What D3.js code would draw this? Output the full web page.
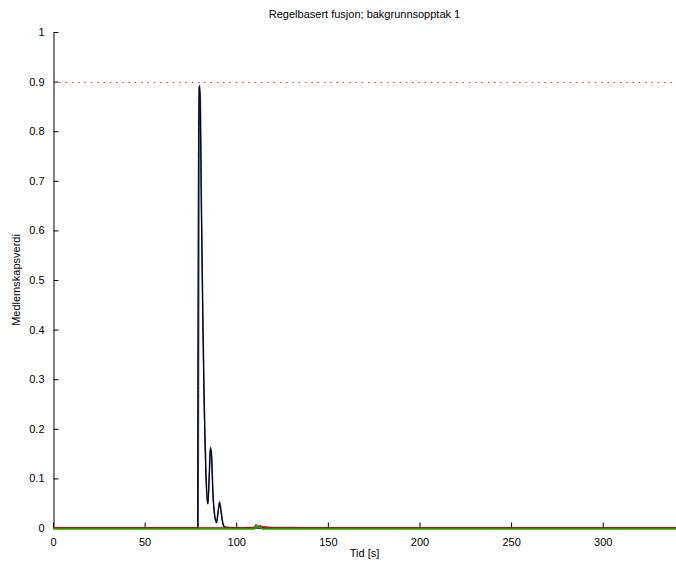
<!DOCTYPE html>
<html>
<head>
<meta charset="utf-8">
<script src="https://cdn.jsdelivr.net/npm/d3@7"></script>
<style>
  body { margin: 0; background: #fff; }
  svg text { font-family: "Liberation Sans", Arial, sans-serif; font-size: 11px; fill: #000; }
</style>
</head>
<body>
<svg id="chart" width="676" height="568"></svg>
<script>
// chart data
const title = "Regelbasert fusjon; bakgrunnsopptak 1";
const xLabel = "Tid [s]";
const yLabel = "Medlemskapsverdi";
const xTicks = [0, 50, 100, 150, 200, 250, 300];
const yTicks = [0, 0.1, 0.2, 0.3, 0.4, 0.5, 0.6, 0.7, 0.8, 0.9, 1];
const threshold = 0.9;

// navy membership curve
const navyT = [0, 79.2, 79.5, 79.9, 80.4, 81, 81.8, 82.6, 83.5, 84.5, 85.3, 85.9, 86.5, 87.3, 88.3, 89.2, 90, 90.9, 91.7, 92.6, 93.5, 96, 340];
const navyV = [0, 0, 0.5, 0.893, 0.87, 0.65, 0.42, 0.24, 0.11, 0.05, 0.11, 0.163, 0.15, 0.07, 0.025, 0.012, 0.03, 0.053, 0.035, 0.012, 0.003, 0, 0];
// black curve (almost on top of navy, step at start)
const blackT = [0, 78.9, 79.0, 79.7, 80.3, 81, 81.8, 82.6, 83.5, 84.5, 85.3, 85.9, 86.5, 87.3, 88.3, 89.2, 90, 90.9, 91.7, 92.6, 93.5, 108, 110, 110.8, 111.6, 112.4, 113.2, 114, 116, 340];
const blackV = [0, 0, 0.3, 0.89, 0.85, 0.64, 0.41, 0.23, 0.1, 0.048, 0.105, 0.158, 0.145, 0.065, 0.022, 0.01, 0.027, 0.05, 0.032, 0.01, 0.002, 0, 0.001, 0.007, 0.004, 0.004, 0.005, 0.002, 0, 0];
// light blue low curve
const lightT = [0, 104, 106, 132, 134, 340];
const lightV = [0, 0, 0.002, 0.002, 0, 0];
// red low curve
const redT = [0, 108, 110, 113, 116, 119, 121, 340];
const redV = [0, 0, 0.002, 0.003, 0.002, 0.001, 0, 0];
// green curve along zero
const greenT = [0, 110, 110.8, 111.6, 112.5, 113.3, 114.2, 340];
const greenV = [0, 0, 0.006, 0.003, 0.004, 0.004, 0, 0];

const width = 676, height = 568;
const margin = { top: 32, bottom: 40, left: 53, right: 0 };

const svg = d3.select("#chart");

const xScale = d3.scaleLinear()
  .domain([0, 340])
  .range([margin.left, width - margin.right]);

const yScale = d3.scaleLinear()
  .domain([0, 1])
  .range([height - margin.bottom, margin.top]);

// axes, MATLAB style ticks pointing inwards
const xAxis = d3.axisBottom(xScale).tickValues(xTicks).tickSizeInner(-5).tickSizeOuter(0).tickPadding(9);
const yAxis = d3.axisLeft(yScale).tickValues(yTicks).tickSizeInner(-5).tickSizeOuter(0).tickPadding(9)
  .tickFormat(d => d === 0 || d === 1 ? d3.format("d")(d) : d3.format(".1f")(d));

const gx = svg.append("g")
  .attr("transform", `translate(0,${yScale(0) - 0.5})`)
  .call(xAxis);
const gy = svg.append("g")
  .attr("transform", `translate(${margin.left + 0.5},0)`)
  .call(yAxis);

[gx, gy].forEach(g => {
  g.select(".domain").attr("stroke", "#000").attr("stroke-width", 1);
  g.selectAll(".tick line").attr("stroke", "#000");
  g.selectAll(".tick text").attr("font-size", 11).attr("fill", "#000")
    .attr("font-family", "Liberation Sans, Arial, sans-serif");
});
gx.selectAll(".tick text").attr("dy", "0.9em");

// threshold
svg.append("line")
  .attr("x1", xScale(0)).attr("x2", xScale(340))
  .attr("y1", Math.round(yScale(threshold)) + 0.5).attr("y2", Math.round(yScale(threshold)) + 0.5)
  .attr("stroke", "#ff3030")
  .attr("stroke-width", 1)
  .attr("stroke-dasharray", "1.5,4.8");

const line = d3.line()
  .x(d => xScale(d[0]))
  .y(d => yScale(d[1]))
  .curve(d3.curveMonotoneX);

function drawSeries(ts, vs, color, w) {
  svg.append("path")
    .datum(ts.map((t, i) => [t, vs[i]]))
    .attr("fill", "none")
    .attr("stroke", color)
    .attr("stroke-width", w)
    .attr("d", line);
}

drawSeries(lightT, lightV, "#b8b8e6", 1.2);
drawSeries(navyT, navyV, "#2b2b7a", 1.5);
drawSeries(blackT, blackV, "#000000", 1);
drawSeries(redT, redV, "#ff0000", 1.5);

// green along zero, just below the axis line
svg.append("path")
  .datum(greenT.map((t, i) => [t, greenV[i]]))
  .attr("fill", "none")
  .attr("stroke", "#22aa00")
  .attr("stroke-width", 1.5)
  .attr("transform", "translate(0,1)")
  .attr("d", line);

// title and labels
svg.append("text")
  .attr("x", (xScale.range()[0] + xScale.range()[1]) / 2)
  .attr("y", 18)
  .attr("text-anchor", "middle")
  .text(title);

svg.append("text")
  .attr("x", (xScale.range()[0] + xScale.range()[1]) / 2)
  .attr("y", 557)
  .attr("text-anchor", "middle")
  .text(xLabel);

svg.append("text")
  .attr("transform", `translate(20,${(yScale(0) + yScale(1)) / 2}) rotate(-90)`)
  .attr("text-anchor", "middle")
  .text(yLabel);
</script>
</body>
</html>
